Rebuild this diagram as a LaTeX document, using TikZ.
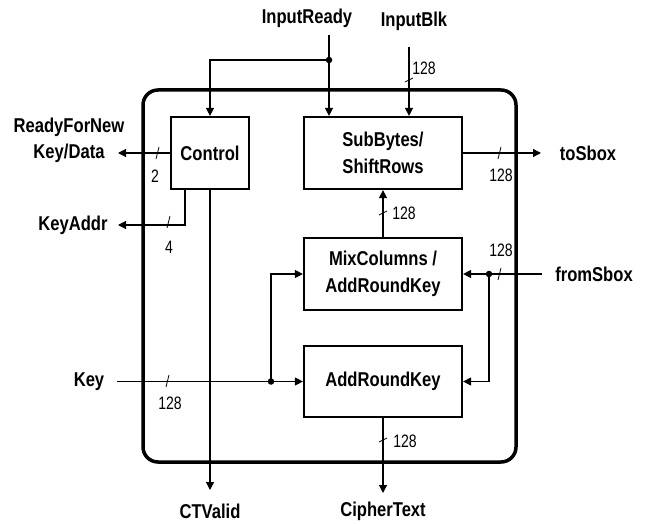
\documentclass[tikz,border=0pt]{standalone}
\usepackage{fontspec}
\usetikzlibrary{arrows.meta,calc}
\newfontfamily\lblfont{Liberation Sans}[FakeStretch=0.83]
\newfontfamily\numfont{Liberation Sans}[FakeStretch=0.78]
\begin{document}
\begin{tikzpicture}[x=1pt,y=-1pt,
  lbl/.style={font=\lblfont\bfseries\fontsize{20}{26}\selectfont, inner sep=0pt, align=center},
  num/.style={font=\numfont\fontsize{18}{20}\selectfont, inner sep=0pt},
  blk/.style={draw, line width=2.2pt, minimum width=158pt, minimum height=72pt, inner sep=0pt, align=center, font=\lblfont\bfseries\fontsize{20}{27}\selectfont},
  wire/.style={line width=1.2pt},
  arr/.style={wire, -{Triangle[length=8pt,width=8pt]}},
  tick/.style={line width=0.8pt},
  dot/.style={circle, fill, inner sep=0pt, minimum size=6.5pt}
]
\useasboundingbox (0,0) rectangle (647,524);
\fill[white] (0,0) rectangle (647,524);

% outer frame
\draw[line width=3.5pt, rounded corners=15pt] (143,90) rectangle (516,462);

% blocks
\node[blk, minimum width=78pt] (ctrl) at (210,153) {Control};
\node[blk] (sb) at (383,153) {SubBytes/\\ShiftRows};
\node[blk] (mc) at (383,274) {MixColumns /\\AddRoundKey};
\node[blk, minimum height=71pt] (ark) at (383,381.5) {AddRoundKey};

% labels
\node[lbl] (lir) at (307,18) {InputReady};
\node[lbl] (lib) at (414,21) {InputBlk};
\node[lbl] (lrfn) at (69,140) {ReadyForNew\\Key/Data};
\node[lbl] (lka) at (73,225) {KeyAddr};
\node[lbl] (lts) at (588,153) {toSbox};
\node[lbl] (lfs) at (594,274) {fromSbox};
\node[lbl] (lkey) at (89,381.5) {Key};
\node[lbl] (lctv) at (210,511) {CTValid};
\node[lbl] (lct) at (383,511) {CipherText};

% coordinates
\coordinate (irtop) at (329,35);
\coordinate (irj) at (329,60);
\coordinate (ibtop) at (409,47);
\coordinate (rfnend) at (118,153);
\coordinate (kaend) at (118,225);
\coordinate (ctvend) at (210,490);
\coordinate (tsend) at (541,153);
\coordinate (fsstart) at (542,274);
\coordinate (fsj) at (489,274);
\coordinate (keystart) at (117,381.5);
\coordinate (kj) at (271,381.5);
\coordinate (ctend) at (383,493);

% connectors
\draw[arr] (irtop) -- (irtop |- sb.north);
\draw[arr] (irj) -| (ctrl.north);
\node[dot] (dir) at (irj) {};
\draw[arr] (ibtop) -- (ibtop |- sb.north);
\draw[arr] (ctrl.west) -- (rfnend);
\draw[arr] ([xshift=15pt]ctrl.south west) |- (kaend);
\draw[arr] (ctrl.south) -- (ctvend);
\draw[arr] (sb.east) -- (tsend);
\draw[arr] (mc.north) -- (sb.south);
\draw[arr] (fsstart) -- (mc.east);
\draw[arr] (fsj) |- (ark.east);
\node[dot] (dfs) at (fsj) {};
\draw[arr] (keystart) -- (ark.west);
\draw[arr] (kj) |- (mc.west);
\node[dot] (dk) at (kj) {};
\draw[arr] (ark.south) -- (ctend);

% bus ticks (horizontal wires)
\draw[tick] (156,159) -- (159,147);
\draw[tick] (167,228) -- (170,216);
\draw[tick] (166,387) -- (169,375);
\draw[tick] (498,159) -- (501,147);
\draw[tick] (498,280) -- (501,268);
% bus ticks (vertical wires)
\draw[tick] (405,82) -- (413,78);
\draw[tick] (379,215) -- (387,211);
\draw[tick] (379,442) -- (387,438);

% bus widths
\node[num] (n1) at (155,176) {2};
\node[num] (n2) at (169,247) {4};
\node[num] (n3) at (170,403) {128};
\node[num] (n4) at (501,175) {128};
\node[num] (n5) at (501,250) {128};
\node[num] (n6) at (424,68) {128};
\node[num] (n7) at (404,213) {128};
\node[num] (n8) at (405,441) {128};
\end{tikzpicture}
\end{document}
